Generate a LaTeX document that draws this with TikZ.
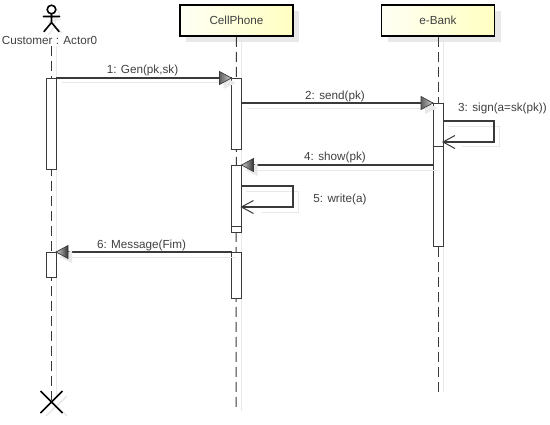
\documentclass[tikz,border=0pt]{standalone}
\usepackage{fontspec}
\setmainfont{Liberation Sans}
\usetikzlibrary{arrows.meta,calc}
\definecolor{ink}{HTML}{3A3A3A}
\definecolor{txt}{HTML}{404040}
\definecolor{shad}{HTML}{E8E8E8}
\tikzset{
  x=1pt,y=-1pt,
  lbl/.style={font=\fontsize{11.7}{14}\selectfont,text=txt,inner sep=0pt},
  headbox/.style={draw=black,line width=1.6pt,left color=yellow!4,right color=yellow!24,minimum width=113pt,minimum height=31pt,inner sep=0pt,font=\fontsize{11.7}{14}\selectfont,text=txt},
  headshadow/.style={fill=shad,draw=none,minimum width=113pt,minimum height=31pt},
  life/.style={draw=ink,line width=1pt,dash pattern=on 10pt off 5pt},
  lifeshadow/.style={draw=shad,line width=1pt},
  bar/.style={draw=ink,fill=white,line width=1pt,minimum width=10pt,inner sep=0pt,outer sep=0pt},
  msg/.style={draw=ink,line width=1.3pt},
  msgshadow/.style={draw=shad,line width=1pt},
  openhead/.style={draw=ink,line width=1pt},
  actorline/.style={draw=black,line width=1.6pt,line cap=round},
}
\newcommand{\headR}[1]{%
  \fill[shad] ($(#1)+(-8,-2)$) -- ($(#1)+(4,5)$) -- ($(#1)+(-8,11)$) -- cycle;
  \draw[ink,line width=.7pt,left color=gray!75!black,right color=gray!35] ($(#1)+(-12,-6.5)$) -- (#1) -- ($(#1)+(-12,6.5)$) -- cycle;}
\newcommand{\headL}[1]{%
  \fill[shad] ($(#1)+(16,-2)$) -- ($(#1)+(4,5)$) -- ($(#1)+(16,11)$) -- cycle;
  \draw[ink,line width=.7pt,left color=gray!35,right color=black!80] ($(#1)+(12,-6.5)$) -- (#1) -- ($(#1)+(12,6.5)$) -- cycle;}
\begin{document}
\begin{tikzpicture}
\useasboundingbox (0,0) rectangle (550,424);
\fill[white] (0,0) rectangle (550,424);
\coordinate (actorTop) at (51.5,46);
\coordinate (actorEnd) at (51.5,402);
\coordinate (cellEnd) at (236,407);
\coordinate (bankEnd) at (438,392);
% shadows
\node[headshadow] at (242,26) {};
\node[headshadow] at (444,26) {};
\draw[lifeshadow] (56.5,46) -- (56.5,396);
\draw[lifeshadow] (241,40) -- (241,411);
\draw[lifeshadow] (443,40) -- (443,392);
% heads
\node[headbox] (cell) at (236.5,20.5) {\raisebox{1pt}{CellPhone}};
\node[headbox] (bank) at (438,20.5) {\raisebox{1pt}{e-Bank}};
\node[lbl] (actorlabel) at (49.5,40) {Customer : Actor0};
% lifelines
\draw[life] (actorTop) -- (actorEnd);
\draw[life] (cell.south) -- (cellEnd);
\draw[life] (bank.south) -- (bankEnd);
% actor
\draw[shad,line width=1.2pt] (55,14) circle (4.5);
\draw[shad,line width=1.2pt] (55,19) -- (55,26) (48,22) -- (61,19) (55,26) -- (48,35) (55,26) -- (62,33);
\draw[actorline,fill=white] (51.5,9.5) circle (4.3);
\draw[actorline] (51.5,14) -- (51.5,22.5) (43.5,16.5) -- (59.5,16.5) (51.5,22.5) -- (44,31.5) (51.5,22.5) -- (59,31.5);
% activations
\node[bar,anchor=north,minimum height=91pt] (a1) at (51,78) {};
\node[bar,anchor=north,minimum height=25pt] (a2) at (51,252) {};
\node[bar,anchor=north,minimum height=71pt] (c1) at (236.5,78) {};
\node[bar,anchor=north,minimum height=67pt] (c2) at (236.5,165) {};
\node[bar,anchor=north,minimum height=46pt] (c3) at (236.5,252) {};
\node[bar,anchor=north,minimum height=143pt] (b1) at (438,103) {};
\draw[ink,line width=.9pt] (c2.west |- 0,226) -- (c2.east |- 0,226);
\draw[ink,line width=.9pt] (b1.west |- 0,146) -- (b1.east |- 0,146);
\coordinate (s3a) at (494,121);
\coordinate (s3b) at (494,142);
\coordinate (s5a) at (293,186);
\coordinate (s5b) at (293,207);
% message shadows
\draw[msgshadow] (62,82) -- (232,82);
\draw[msgshadow] (247,108) -- (433,108);
\draw[msgshadow] (247,170) -- (438,170);
\draw[msgshadow] (60,257) -- (236,257);
\draw[msgshadow] (448,126) -- (499,126) -- (499,146) -- (462,146);
\draw[msgshadow] (246,191) -- (298,191) -- (298,212) -- (262,212);
% messages
\draw[msg] (a1.north east) -- (c1.north west);
\headR{c1.north west}
\draw[msg] (c1.east |- 0,103) -- (b1.north west);
\headR{b1.north west}
\draw[msg] (b1.west |- 0,165) -- (c2.north east);
\headL{c2.north east}
\draw[msg] (c3.north west) -- (a2.north east);
\headL{a2.north east}
\draw[msg] (b1.east |- 0,121) -- (s3a) -- (s3b) -- (b1.east |- 0,142);
\draw[openhead] ($(b1.east |- 0,142)+(12,-6.5)$) -- (b1.east |- 0,142) -- ($(b1.east |- 0,142)+(12,6.5)$);
\draw[msg] (c2.east |- 0,186) -- (s5a) -- (s5b) -- (c2.east |- 0,207);
\draw[openhead] ($(c2.east |- 0,207)+(12,-6.5)$) -- (c2.east |- 0,207) -- ($(c2.east |- 0,207)+(12,6.5)$);
% labels
\node[lbl] (m1) at (142.5,70) {1: Gen(pk,sk)};
\node[lbl] (m2) at (335,96) {2: send(pk)};
\node[lbl] (m3) at (502.5,108) {3: sign(a=sk(pk))};
\node[lbl] (m4) at (335,157.5) {4: show(pk)};
\node[lbl] (m5) at (340,199) {5: write(a)};
\node[lbl] (m6) at (141.5,245) {6: Message(Fim)};
% destruction
\draw[shad,line width=1.4pt] (46,396) -- (67,416) (46,416) -- (67,396);
\draw[black,line width=1.5pt] (actorEnd)+(-11,-11) -- +(11,11) +(-11,11) -- +(11,-11);
\end{tikzpicture}
\end{document}
